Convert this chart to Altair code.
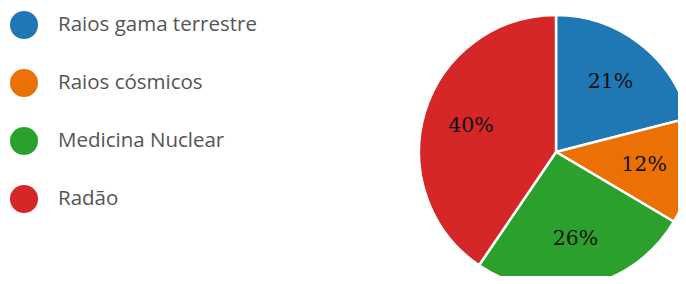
import altair as alt
import pandas as pd

categories = ["Raios gama terrestre", "Raios cósmicos", "Medicina Nuclear", "Radão"]
values = [21, 12.5, 26, 40.5]
labels = ["21%", "12%", "26%", "40%"]
colors = ["#1f77b4", "#ec7104", "#2ca02c", "#d62728"]

df = pd.DataFrame({"cat": categories, "val": values, "lab": labels, "order": list(range(4))})

cx, cy, r = 548, 144, 137

base = alt.Chart(df).encode(
    theta=alt.Theta("val:Q", stack=True),
    order=alt.Order("order:Q"),
)

pie = base.mark_arc(outerRadius=r, stroke="white", strokeWidth=2.5).encode(
    x=alt.value(cx),
    y=alt.value(cy),
    color=alt.Color(
        "cat:N",
        scale=alt.Scale(domain=categories, range=colors),
        sort=categories,
        legend=alt.Legend(
            title=None,
            orient="none",
            legendX=2,
            legendY=3,
            symbolType="circle",
            symbolSize=784,
            symbolStrokeWidth=0,
            symbolOpacity=1,
            labelFont="Open Sans",
            labelFontSize=20.5,
            labelColor="#555555",
            labelOffset=20,
            rowPadding=30,
            labelLimit=400,
        ),
    ),
)

text = base.mark_text(radius=89, font="DejaVu Serif", fontSize=20.5, color="#111111").encode(
    x=alt.value(cx),
    y=alt.value(cy),
    text="lab:N",
)

chart = (pie + text).properties(
    width=670,
    height=268,
    autosize=alt.AutoSizeParams(type="none"),
    padding=0,
).configure_view(stroke=None)

chart.save("out.html", embed_options={"renderer": "svg", "actions": False})
